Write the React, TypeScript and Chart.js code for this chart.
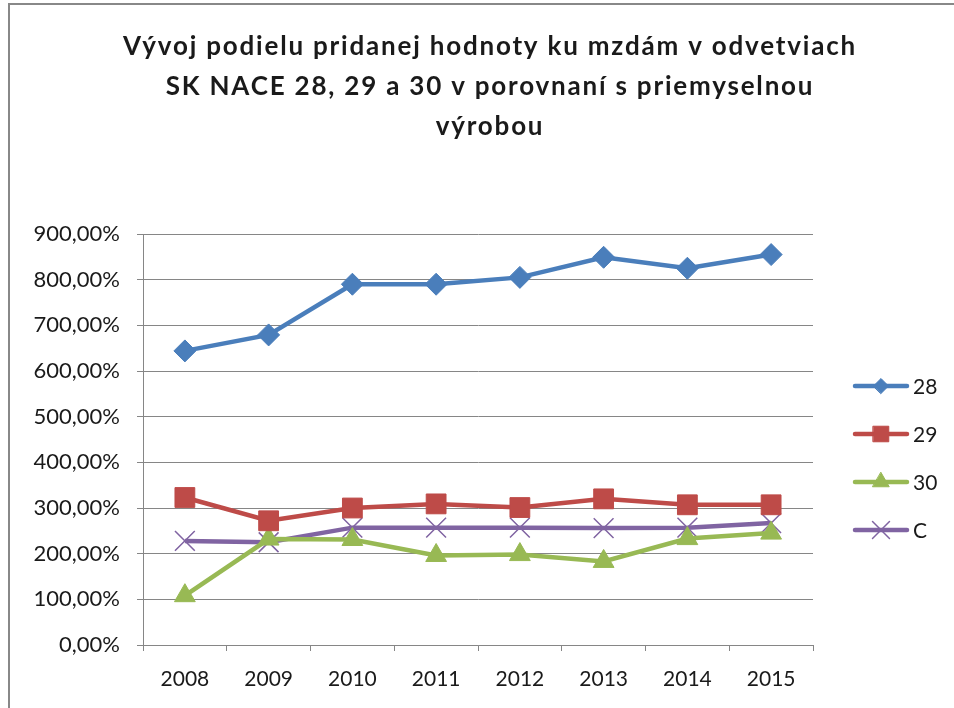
import React, { useEffect, useRef } from 'react';
import { Chart, registerables } from 'chart.js';
import { drawPoint } from 'chart.js/helpers';

Chart.register(...registerables);

const years = ['2008', '2009', '2010', '2011', '2012', '2013', '2014', '2015'];
const s28 = [644, 679, 790, 790, 805, 849, 825, 855];
const s29 = [323, 272, 300, 309, 301, 320, 307, 307];
const s30 = [108, 232, 231, 196, 198, 183, 233, 245];
const sC = [228, 225, 257, 257, 257, 256, 257, 267];
const seriesNames = ['28', '29', '30', 'C'];
const titleLines = [
  'Vývoj podielu pridanej hodnoty ku mzdám v odvetviach',
  'SK NACE 28, 29 a 30 v porovnaní s priemyselnou',
  'výrobou',
];

const FONT = 'Lato, "Open Sans", sans-serif';
const TXT = '#1a1a1a';

export default function App() {
  const ref = useRef<HTMLCanvasElement>(null);
  useEffect(() => {
    document.body.style.margin = '0';
    const canvas = ref.current!;
    const styles = [
      { color: '#4A7EBB', pointStyle: 'rectRot', radius: 11, legendR: 7.5, bw: 1 },
      { color: '#BE4B48', pointStyle: 'rect', radius: 14, legendR: 11, bw: 1 },
      { color: '#98B954', pointStyle: 'triangle', radius: 12, legendR: 9.5, bw: 1 },
      { color: '#8064A2', pointStyle: 'crossRot', radius: 14, legendR: 12, bw: 1.5 },
    ];
    const data = [s28, s29, s30, sC];

    const deco = {
      id: 'deco',
      beforeDraw(chart: any) {
        const ctx = chart.ctx;
        ctx.save();
        ctx.fillStyle = '#fff';
        ctx.fillRect(0, 0, chart.width, chart.height);
        ctx.strokeStyle = '#888';
        ctx.lineWidth = 2;
        ctx.strokeRect(9, 4, 2000, 2000);
        ctx.restore();
      },
      afterDraw(chart: any) {
        const ctx = chart.ctx;
        ctx.save();
        ctx.fillStyle = TXT;
        ctx.textAlign = 'center';
        ctx.textBaseline = 'middle';
        ctx.font = 'bold 26px ' + FONT;
        (ctx as any).letterSpacing = '1.8px';
        titleLines.forEach((t, i) => ctx.fillText(t, 490, 47 + i * 40));
        (ctx as any).letterSpacing = '0px';
        // legend
        const ys = [386, 434, 482, 530];
        seriesNames.forEach((name, i) => {
          const st = styles[i];
          const y = ys[i];
          ctx.strokeStyle = st.color;
          ctx.lineWidth = 4.5;
          ctx.lineCap = 'round';
          ctx.beginPath();
          ctx.moveTo(855, y);
          ctx.lineTo(907, y);
          ctx.stroke();
          ctx.fillStyle = st.color;
          ctx.lineWidth = st.bw;
          drawPoint(ctx, { pointStyle: st.pointStyle as any, radius: st.legendR, rotation: 0, borderWidth: st.bw }, 881, y);
          ctx.fillStyle = TXT;
          ctx.textAlign = 'left';
          ctx.font = '21px ' + FONT;
          ctx.fillText(name, 913, y + 1);
        });
        ctx.restore();
      },
    };

    const chart = new Chart(canvas, {
      type: 'line',
      data: {
        labels: years,
        datasets: data.map((d, i) => ({
          label: seriesNames[i],
          data: d,
          borderColor: styles[i].color,
          backgroundColor: styles[i].color,
          borderWidth: 4.5,
          pointStyle: styles[i].pointStyle as any,
          pointRadius: styles[i].radius,
          pointBorderWidth: styles[i].bw,
          pointBorderColor: styles[i].color,
          pointBackgroundColor: styles[i].color,
          tension: 0,
        })),
      },
      options: {
        animation: false,
        responsive: false,
        layout: { padding: { top: 234, right: 141, left: 0, bottom: 0 } },
        plugins: { legend: { display: false }, title: { display: false }, tooltip: { enabled: false } },
        scales: {
          x: {
            offset: true,
            grid: { offset: true, drawOnChartArea: false, color: '#868686', tickLength: 6 },
            border: { color: '#868686', width: 1 },
            ticks: { color: TXT, font: { family: FONT, size: 21 }, padding: 16, maxRotation: 0 },
            afterFit(s: any) { s.height = 63; },
          },
          y: {
            min: 0,
            max: 900,
            grid: { color: '#868686', tickLength: 6 },
            border: { color: '#868686', width: 1 },
            ticks: {
              stepSize: 100,
              color: TXT,
              font: { family: FONT, size: 22 },
              padding: 17,
              callback: (v: any) => Number(v).toFixed(2).replace('.', ',') + '%',
            },
            afterFit(s: any) { s.width = 143; },
          },
        },
      },
      plugins: [deco],
    });
    return () => chart.destroy();
  }, []);
  return <canvas ref={ref} width={954} height={708} style={{ display: 'block' }} />;
}
